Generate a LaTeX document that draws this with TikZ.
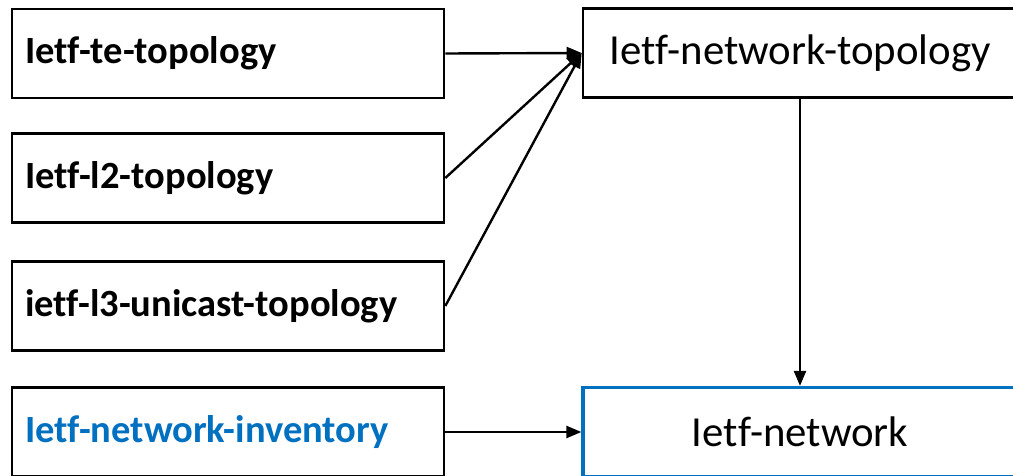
\documentclass[tikz,border=0pt]{standalone}
\usepackage{fontspec}
\setmainfont{Carlito}[Ligatures=NoCommon]
\usetikzlibrary{arrows.meta}
\definecolor{yangblue}{RGB}{0,112,192}
\pgfdeclarelayer{edgelayer}
\pgfdeclarelayer{nodelayer}
\pgfsetlayers{edgelayer,nodelayer,main}
\tikzstyle{edge}=[draw=black, line width=2.4pt, -{Triangle[length=15pt,width=12pt]}]
\tikzstyle{module}=[rectangle, fill=white, draw=black, line width=2.6pt, minimum height=89pt, inner xsep=13pt, text width=406pt, align=left, font=\fontsize{38.5}{44}\bfseries]
\tikzstyle{base}=[rectangle, fill=white, draw=black, line width=2.6pt, minimum width=434pt, minimum height=89pt, font=\fontsize{42.8}{48}\selectfont]

\begin{document}
\begin{tikzpicture}[x=1pt, y=-1pt]
				\useasboundingbox (0, 0) rectangle (1013, 476);
				\begin{pgfonlayer}{nodelayer}
					\node [style=module] (1) at (228, 53.5) {Ietf-te-topology};
					\node [style=module] (2) at (228, 178) {Ietf-l2-topology};
					\node [style=module] (3) at (228, 306) {ietf-l3-unicast-topology};
					\node [style=module, text=yangblue] (4) at (228, 432) {Ietf-network-inventory};
					\node [style=base] (5) at (800, 53) {Ietf-network-topology};
					\node [style=base, draw=yangblue, line width=3.2pt] (6) at (800, 432) {Ietf-network};
				\end{pgfonlayer}
				\begin{pgfonlayer}{edgelayer}
					\draw [style=edge] (1.east) to (5.west);
					\draw [style=edge] (2.east) to (5.west);
					\draw [style=edge] (3.east) to (5.west);
					\draw [style=edge] (5.south) to (6.north);
					\draw [style=edge] (4.east) to (6.west);
				\end{pgfonlayer}
\end{tikzpicture}
\end{document}
